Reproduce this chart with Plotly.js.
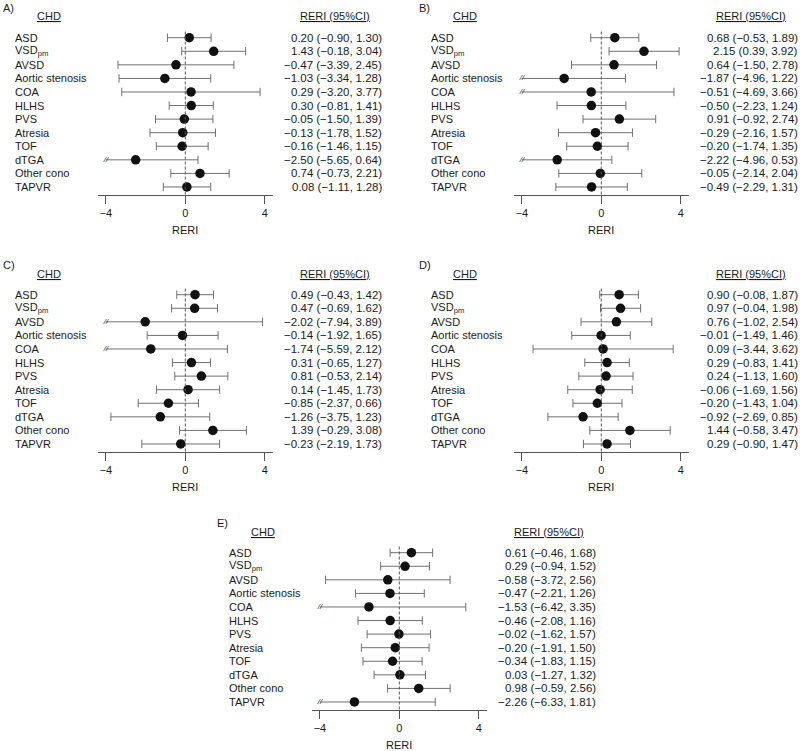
<!DOCTYPE html>
<html><head><meta charset="utf-8">
<script src="https://cdn.plot.ly/plotly-3.0.1.min.js"></script>
<style>html,body{margin:0;padding:0;background:#fff}</style>
</head><body><div id="chart" style="width:800px;height:751px"></div>
<script>
const categories = ["ASD","VSD<sub>pm</sub>","AVSD","Aortic stenosis","COA","HLHS","PVS","Atresia","TOF","dTGA","Other cono","TAPVR"];
const panelLabels = ["A)","B)","C)","D)","E)"];

const estA = [0.20,1.43,-0.47,-1.03,0.29,0.30,-0.05,-0.13,-0.16,-2.50,0.74,0.08];
const loA  = [-0.90,-0.18,-3.39,-3.34,-3.20,-0.81,-1.50,-1.78,-1.46,-5.65,-0.73,-1.11];
const hiA  = [1.30,3.04,2.45,1.28,3.77,1.41,1.39,1.52,1.15,0.64,2.21,1.28];

const estB = [0.68,2.15,0.64,-1.87,-0.51,-0.50,0.91,-0.29,-0.20,-2.22,-0.05,-0.49];
const loB  = [-0.53,0.39,-1.50,-4.96,-4.69,-2.23,-0.92,-2.16,-1.74,-4.96,-2.14,-2.29];
const hiB  = [1.89,3.92,2.78,1.22,3.66,1.24,2.74,1.57,1.35,0.53,2.04,1.31];

const estC = [0.49,0.47,-2.02,-0.14,-1.74,0.31,0.81,0.14,-0.85,-1.26,1.39,-0.23];
const loC  = [-0.43,-0.69,-7.94,-1.92,-5.59,-0.65,-0.53,-1.45,-2.37,-3.75,-0.29,-2.19];
const hiC  = [1.42,1.62,3.89,1.65,2.12,1.27,2.14,1.73,0.66,1.23,3.08,1.73];

const estD = [0.90,0.97,0.76,-0.01,0.09,0.29,0.24,-0.06,-0.20,-0.92,1.44,0.29];
const loD  = [-0.08,-0.04,-1.02,-1.49,-3.44,-0.83,-1.13,-1.69,-1.43,-2.69,-0.58,-0.90];
const hiD  = [1.87,1.98,2.54,1.46,3.62,1.41,1.60,1.56,1.04,0.85,3.47,1.47];

const estE = [0.61,0.29,-0.58,-0.47,-1.53,-0.46,-0.02,-0.20,-0.34,0.03,0.98,-2.26];
const loE  = [-0.46,-0.94,-3.72,-2.21,-6.42,-2.08,-1.62,-1.91,-1.83,-1.27,-0.59,-6.33];
const hiE  = [1.68,1.52,2.56,1.26,3.35,1.16,1.57,1.50,1.15,1.32,2.56,1.81];

const tickVals = [-4,0,4];
const tickText = ["\u22124","0","4"];
const clipAt = -4;

const panels = [
  {est:estA, lo:loA, hi:hiA, ox:0,   oy:0},
  {est:estB, lo:loB, hi:hiB, ox:416, oy:0},
  {est:estC, lo:loC, hi:hiC, ox:0,   oy:257},
  {est:estD, lo:loD, hi:hiD, ox:416, oy:257},
  {est:estE, lo:loE, hi:hiE, ox:214, oy:515}
];

const W = 800, H = 751;
const FONT = '"Liberation Sans", Arial, Helvetica, sans-serif';
const TXT = '#1a1a1a';
const GREY = '#707070';
const px = x => x / W;
const py = y => 1 - y / H;
const fmt = v => v.toFixed(2).replace('-', '\u2212');

// geometry (local pixels within a panel)
const AX_L = 97.7, AX_R = 273.3, ZERO = 185.3, UNIT = 19.85;
const Y_TOP = 30, Y_BOT = 194.5, ROW0 = 37.7, ROWSTEP = 13.57;

const data = [];
const layout = {
  width: W, height: H,
  margin: {l:0, r:0, t:0, b:0},
  paper_bgcolor: '#fff', plot_bgcolor: 'rgba(0,0,0,0)',
  showlegend: false,
  font: {family: FONT, color: TXT, size: 11},
  annotations: [], shapes: []
};

panels.forEach((p, k) => {
  const n = k + 1;
  const xa = 'x' + (n === 1 ? '' : n), ya = 'y' + (n === 1 ? '' : n);
  const xKey = 'xaxis' + (n === 1 ? '' : n), yKey = 'yaxis' + (n === 1 ? '' : n);
  const lastY = (categories.length - 1);
  const yv = categories.map((c, i) => lastY - i);
  const yBotPix = ROW0 + lastY * ROWSTEP;
  const yMin = -(Y_BOT - yBotPix) / ROWSTEP;
  const yMax = lastY + (ROW0 - Y_TOP) / ROWSTEP;

  layout[xKey] = {
    domain: [px(p.ox + AX_L), px(p.ox + AX_R)],
    range: [(AX_L - ZERO) / UNIT, (AX_R - ZERO) / UNIT],
    anchor: ya, showline: true, linecolor: '#555', linewidth: 1,
    ticks: 'outside', ticklen: 8, tickcolor: '#555', tickwidth: 1,
    tickvals: tickVals, ticktext: tickText,
    tickfont: {family: FONT, size: 11, color: TXT},
    showgrid: false, zeroline: false, fixedrange: true
  };
  layout[yKey] = {
    domain: [py(p.oy + Y_BOT), py(p.oy + Y_TOP)],
    range: [yMin, yMax], anchor: xa, visible: false, fixedrange: true
  };

  layout.shapes.push({type:'line', xref:xa, yref: ya + ' domain', x0:0, x1:0, y0:0, y1:1,
    line:{color:'#555', width:1, dash:'3px,2px'}});

  const lx = [], ly = [], cx = [], cy = [], bx = [], by = [];
  p.est.forEach((e, i) => {
    const l = Math.max(p.lo[i], clipAt);
    lx.push(l, p.hi[i], null); ly.push(yv[i], yv[i], null);
    cx.push(p.hi[i]); cy.push(yv[i]);
    if (p.lo[i] < clipAt) { bx.push(clipAt); by.push(yv[i]); }
    else { cx.push(p.lo[i]); cy.push(yv[i]); }
  });
  data.push({type:'scatter', mode:'lines', x:lx, y:ly, xaxis:xa, yaxis:ya,
    line:{color:GREY, width:1}, hoverinfo:'skip'});
  data.push({type:'scatter', mode:'markers', x:cx, y:cy, xaxis:xa, yaxis:ya,
    marker:{symbol:'line-ns', size:6, line:{color:GREY, width:1}}, hoverinfo:'skip'});
  if (bx.length) data.push({type:'scatter', mode:'text', x:bx, y:by, xaxis:xa, yaxis:ya,
    text: bx.map(() => '<i>//</i>'), textposition:'middle center',
    textfont:{family:FONT, size:8, color:'#222'}, hoverinfo:'skip'});
  data.push({type:'scatter', mode:'markers', x:p.est, y:yv, xaxis:xa, yaxis:ya,
    marker:{color:'#111', size:9.5}, hoverinfo:'skip'});

  categories.forEach((c, i) => {
    layout.annotations.push({xref:'paper', yref:ya, x:px(p.ox + 13.3), y:yv[i],
      xanchor:'left', yanchor:'middle', text:c, showarrow:false,
      font:{family:FONT, size:11, color:TXT}});
    layout.annotations.push({xref:'paper', yref:ya, x:px(p.ox + 383.5), y:yv[i],
      xanchor:'right', yanchor:'middle', showarrow:false,
      text: fmt(p.est[i]) + ' (' + fmt(p.lo[i]) + ', ' + fmt(p.hi[i]) + ')',
      font:{family:FONT, size:11.5, color:TXT}});
  });
  layout.annotations.push({xref:'paper', yref:'paper', x:px(p.ox + 0.5), y:py(p.oy + 7.5),
    xanchor:'left', yanchor:'middle', text:panelLabels[k], showarrow:false,
    font:{family:FONT, size:11, color:TXT}});
  layout.annotations.push({xref:'paper', yref:'paper', x:px(p.ox + 49.3), y:py(p.oy + 16.5),
    xanchor:'center', yanchor:'middle', text:'<u>CHD</u>', showarrow:false,
    font:{family:FONT, size:11, color:TXT}});
  layout.annotations.push({xref:'paper', yref:'paper', x:px(p.ox + 371.5), y:py(p.oy + 16.5),
    xanchor:'right', yanchor:'middle', text:'<u>RERI (95%CI)</u>', showarrow:false,
    font:{family:FONT, size:11, color:TXT}});
  layout.annotations.push({xref:'paper', yref:'paper', x:px(p.ox + ZERO), y:py(p.oy + 230),
    xanchor:'center', yanchor:'middle', text:'RERI', showarrow:false,
    font:{family:FONT, size:11, color:TXT}});
});

Plotly.newPlot('chart', data, layout, {displayModeBar:false, staticPlot:true});
</script></body></html>
